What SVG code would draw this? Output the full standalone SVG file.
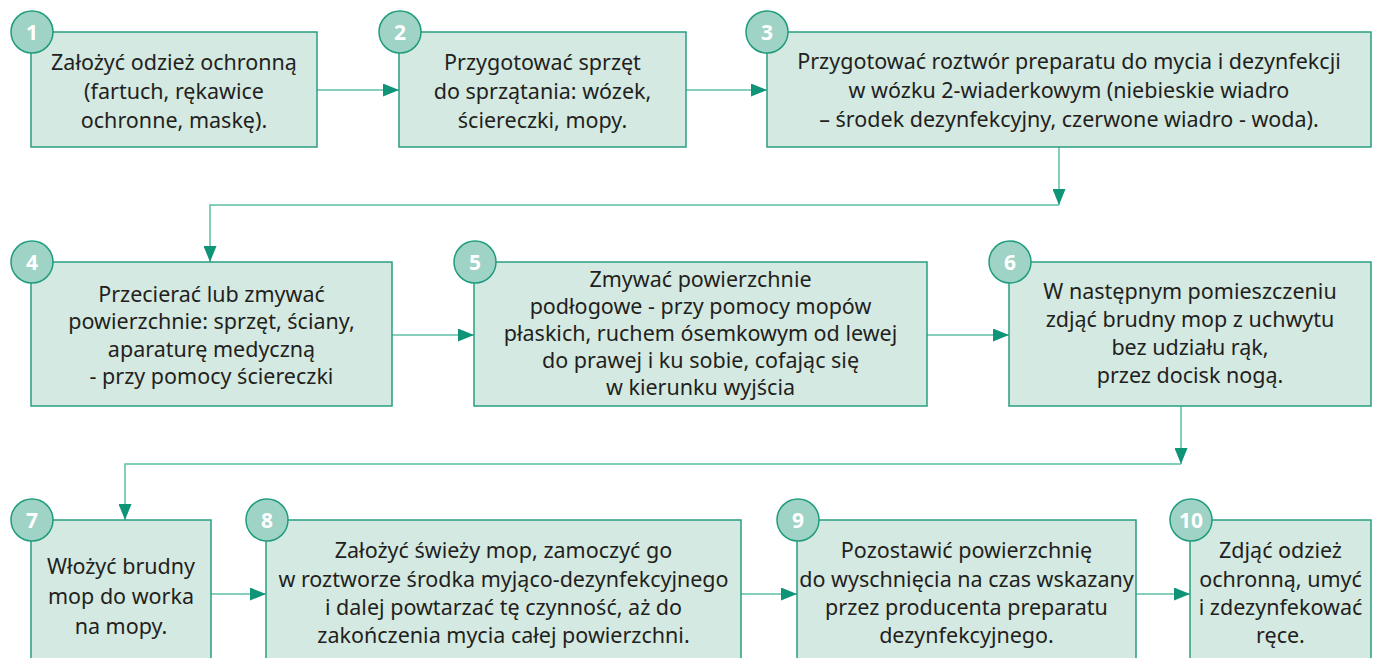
<svg xmlns="http://www.w3.org/2000/svg" width="1377" height="658" viewBox="0 0 1377 658">
<defs>
<style>
.box{fill:#d4e9e1;stroke:#2a9e81;stroke-width:1.5}
.num{fill:#9fd3c6;stroke:#1f9c7d;stroke-width:1.5}
.nt{font-family:"Noto Sans","Open Sans",sans-serif;font-weight:bold;font-size:21px;fill:#ffffff;text-anchor:middle}
.t{font-family:"Noto Sans","Open Sans",sans-serif;font-size:21.5px;fill:#231f20;text-anchor:middle}
.c{fill:none;stroke:#5cbfa6;stroke-width:1.5}
</style>
<marker id="ah" viewBox="0 0 16 13" refX="16" refY="6.5" markerWidth="16" markerHeight="13" markerUnits="userSpaceOnUse" orient="auto">
<path d="M0,0 L16,6.5 L0,13 z" fill="#0f9477"/>
</marker>
</defs>
<rect width="1377" height="658" fill="#ffffff"/>
<g id="connectors">
<path class="c" d="M317,90 H399" marker-end="url(#ah)"/>
<path class="c" d="M686,90 H767" marker-end="url(#ah)"/>
<path class="c" d="M1059,147 V205" marker-end="url(#ah)"/>
<path class="c" d="M1059,205 H210 V262" marker-end="url(#ah)"/>
<path class="c" d="M392,335 H474" marker-end="url(#ah)"/>
<path class="c" d="M927,335 H1009" marker-end="url(#ah)"/>
<path class="c" d="M1181,406 V464" marker-end="url(#ah)"/>
<path class="c" d="M1181,464 H125 V520" marker-end="url(#ah)"/>
<path class="c" d="M211,594 H266" marker-end="url(#ah)"/>
<path class="c" d="M741,594 H797" marker-end="url(#ah)"/>
<path class="c" d="M1136,594 H1190" marker-end="url(#ah)"/>
</g>
<g id="n1">
<rect class="box" x="31" y="32" width="286" height="115"/>
<circle class="num" cx="32" cy="32" r="21"/>
<text class="nt" x="32" y="39.5">1</text>
<text class="t" x="174" y="70">Założyć odzież ochronną</text>
<text class="t" x="174" y="99">(fartuch, rękawice</text>
<text class="t" x="174" y="128">ochronne, maskę).</text>
</g>
<g id="n2">
<rect class="box" x="399" y="32" width="287" height="115"/>
<circle class="num" cx="400" cy="32" r="21"/>
<text class="nt" x="400" y="39.5">2</text>
<text class="t" x="542.5" y="70">Przygotować sprzęt</text>
<text class="t" x="542.5" y="99">do sprzątania: wózek,</text>
<text class="t" x="542.5" y="128">ściereczki, mopy.</text>
</g>
<g id="n3">
<rect class="box" x="767" y="32" width="604" height="115"/>
<circle class="num" cx="767" cy="32" r="21"/>
<text class="nt" x="767" y="39.5">3</text>
<text class="t" x="1069" y="69">Przygotować roztwór preparatu do mycia i dezynfekcji</text>
<text class="t" x="1069" y="98">w wózku 2-wiaderkowym (niebieskie wiadro</text>
<text class="t" x="1069" y="127">– środek dezynfekcyjny, czerwone wiadro - woda).</text>
</g>
<g id="n4">
<rect class="box" x="31" y="262" width="361" height="144"/>
<circle class="num" cx="32" cy="262" r="21"/>
<text class="nt" x="32" y="269.5">4</text>
<text class="t" x="211.5" y="302">Przecierać lub zmywać</text>
<text class="t" x="211.5" y="329">powierzchnie: sprzęt, ściany,</text>
<text class="t" x="211.5" y="357">aparaturę medyczną</text>
<text class="t" x="211.5" y="384">- przy pomocy ściereczki</text>
</g>
<g id="n5">
<rect class="box" x="474" y="262" width="453" height="144"/>
<circle class="num" cx="475" cy="262" r="21"/>
<text class="nt" x="475" y="269.5">5</text>
<text class="t" x="700.5" y="287">Zmywać powierzchnie</text>
<text class="t" x="700.5" y="314">podłogowe - przy pomocy mopów</text>
<text class="t" x="700.5" y="341">płaskich, ruchem ósemkowym od lewej</text>
<text class="t" x="700.5" y="368">do prawej i ku sobie, cofając się</text>
<text class="t" x="700.5" y="395">w kierunku wyjścia</text>
</g>
<g id="n6">
<rect class="box" x="1009" y="262" width="362" height="144"/>
<circle class="num" cx="1010" cy="262" r="21"/>
<text class="nt" x="1010" y="269.5">6</text>
<text class="t" x="1190" y="299">W następnym pomieszczeniu</text>
<text class="t" x="1190" y="327">zdjąć brudny mop z uchwytu</text>
<text class="t" x="1190" y="355">bez udziału rąk,</text>
<text class="t" x="1190" y="383">przez docisk nogą.</text>
</g>
<g id="n7">
<rect class="box" x="31" y="520" width="180" height="150"/>
<circle class="num" cx="32" cy="520" r="21"/>
<text class="nt" x="32" y="527.5">7</text>
<text class="t" x="121" y="574">Włożyć brudny</text>
<text class="t" x="121" y="604">mop do worka</text>
<text class="t" x="121" y="634">na mopy.</text>
</g>
<g id="n8">
<rect class="box" x="266" y="520" width="475" height="150"/>
<circle class="num" cx="267" cy="520" r="21"/>
<text class="nt" x="267" y="527.5">8</text>
<text class="t" x="503.5" y="558">Założyć świeży mop, zamoczyć go</text>
<text class="t" x="503.5" y="587">w roztworze środka myjąco-dezynfekcyjnego</text>
<text class="t" x="503.5" y="615">i dalej powtarzać tę czynność, aż do</text>
<text class="t" x="503.5" y="643">zakończenia mycia całej powierzchni.</text>
</g>
<g id="n9">
<rect class="box" x="797" y="520" width="339" height="150"/>
<circle class="num" cx="798" cy="520" r="21"/>
<text class="nt" x="798" y="527.5">9</text>
<text class="t" x="966.5" y="558">Pozostawić powierzchnię</text>
<text class="t" x="966.5" y="587">do wyschnięcia na czas wskazany</text>
<text class="t" x="966.5" y="615">przez producenta preparatu</text>
<text class="t" x="966.5" y="643">dezynfekcyjnego.</text>
</g>
<g id="n10">
<rect class="box" x="1190" y="520" width="181" height="150"/>
<circle class="num" cx="1191" cy="520" r="21"/>
<text class="nt" x="1191" y="527.5">10</text>
<text class="t" x="1280.5" y="558">Zdjąć odzież</text>
<text class="t" x="1280.5" y="587">ochronną, umyć</text>
<text class="t" x="1280.5" y="615">i zdezynfekować</text>
<text class="t" x="1280.5" y="643">ręce.</text>
</g>
</svg>
